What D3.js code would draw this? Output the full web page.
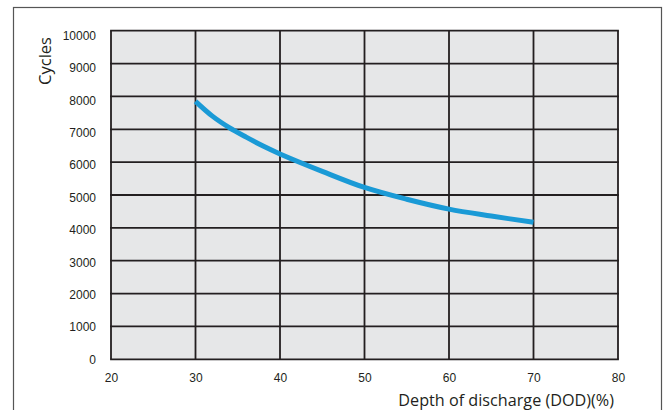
<!DOCTYPE html>
<html>
<head>
<meta charset="utf-8">
<script src="https://cdn.jsdelivr.net/npm/d3@7"></script>
<style>
  body { margin: 0; background: #fff; }
  svg { display: block; }
</style>
</head>
<body>
<svg id="chart" width="668" height="410"></svg>
<script>
// depth of discharge (%) vs cycles
const dod = [30, 32, 34, 36, 38, 40, 45, 50, 55, 60, 65, 70];
const cycles = [7850, 7400, 7050, 6760, 6490, 6250, 5720, 5230, 4870, 4570, 4360, 4170];
const xTicks = [20, 30, 40, 50, 60, 70, 80];
const yTicks = [0, 1000, 2000, 3000, 4000, 5000, 6000, 7000, 8000, 9000, 10000];

const width = 668;
const height = 410;
const margin = { left: 111, top: 30.7, right: 50, bottom: 50.7 };

const svg = d3.select('#chart');

// outer frame (bottom runs off the picture)
svg.append('rect')
  .attr('x', 13.5)
  .attr('y', 7.5)
  .attr('width', 648)
  .attr('height', 420)
  .attr('fill', 'none')
  .attr('stroke', '#555')
  .attr('stroke-width', 1.2);

const xScale = d3.scaleLinear()
  .domain([20, 80])
  .range([margin.left, width - margin.right]);

const yScale = d3.scaleLinear()
  .domain([0, 10000])
  .range([height - margin.bottom, margin.top]);

// plot background
svg.append('rect')
  .attr('x', xScale(20))
  .attr('y', yScale(10000))
  .attr('width', xScale(80) - xScale(20))
  .attr('height', yScale(0) - yScale(10000))
  .attr('fill', '#e6e7e8');

// grid lines
svg.append('g')
  .selectAll('line')
  .data(xTicks)
  .join('line')
  .attr('x1', d => xScale(d))
  .attr('x2', d => xScale(d))
  .attr('y1', yScale(0))
  .attr('y2', yScale(10000))
  .attr('stroke', '#231f20')
  .attr('stroke-width', 1.8);

svg.append('g')
  .selectAll('line')
  .data(yTicks)
  .join('line')
  .attr('x1', xScale(20) - 0.9)
  .attr('x2', xScale(80) + 0.9)
  .attr('y1', d => yScale(d))
  .attr('y2', d => yScale(d))
  .attr('stroke', '#231f20')
  .attr('stroke-width', 1.8);

// axes, only for the labels
const xAxis = svg.append('g')
  .attr('transform', `translate(0,${yScale(0)})`)
  .call(d3.axisBottom(xScale).tickValues(xTicks).tickSize(0).tickPadding(14));
xAxis.select('.domain').remove();
xAxis.selectAll('text')
  .attr('font-family', 'Liberation Sans, Arial, sans-serif')
  .attr('font-size', 12)
  .attr('fill', '#231f20');

const yAxis = svg.append('g')
  .attr('transform', `translate(${xScale(20)},0)`)
  .call(d3.axisLeft(yScale).tickValues(yTicks).tickFormat(d3.format('d')).tickSize(0).tickPadding(15));
yAxis.select('.domain').remove();
yAxis.selectAll('text')
  .attr('font-family', 'Liberation Sans, Arial, sans-serif')
  .attr('font-size', 12)
  .attr('fill', '#231f20')
  .attr('dy', (d) => (0.32 + 0.4 * d / 10000) + 'em');

// the curve
const xy = dod.map((d, i) => ({ x: d, y: cycles[i] }));
const line = d3.line()
  .x(d => xScale(d.x))
  .y(d => yScale(d.y))
  .curve(d3.curveCatmullRom);

svg.append('path')
  .datum(xy)
  .attr('d', line)
  .attr('fill', 'none')
  .attr('stroke', '#1a9ad6')
  .attr('stroke-width', 5);

// axis titles
svg.append('text')
  .attr('x', 614)
  .attr('y', 406)
  .attr('text-anchor', 'end')
  .attr('font-family', 'Open Sans, Noto Sans, sans-serif')
  .attr('font-size', 16.2)
  .attr('fill', '#231f20')
  .text('Depth of discharge (DOD)(%)');

svg.append('text')
  .attr('transform', 'translate(51,61) rotate(-90)')
  .attr('text-anchor', 'middle')
  .attr('font-family', 'Open Sans, Noto Sans, sans-serif')
  .attr('font-size', 16.5)
  .attr('fill', '#231f20')
  .text('Cycles');
</script>
</body>
</html>
